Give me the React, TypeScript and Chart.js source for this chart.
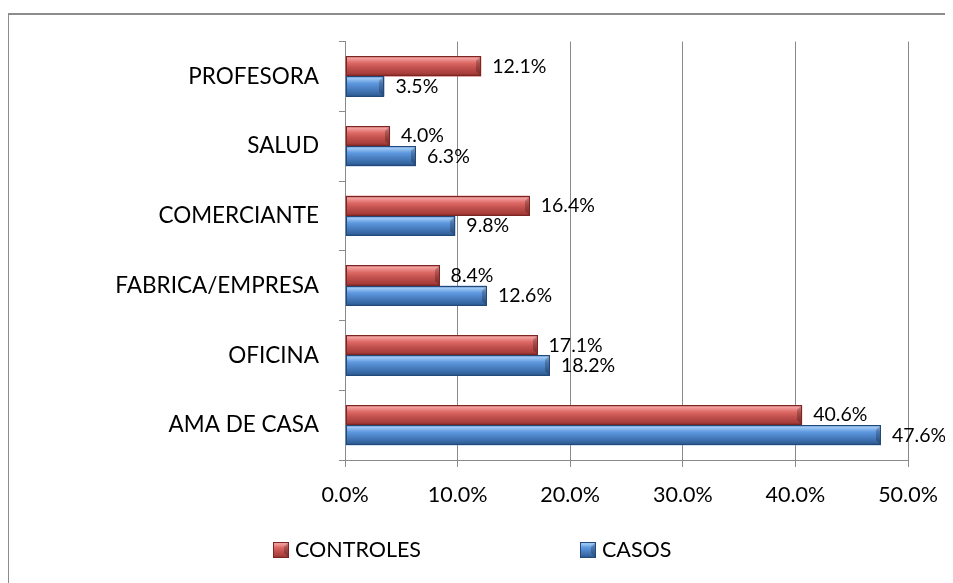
import React, { useEffect, useRef } from "react";
import { Chart, registerables } from "chart.js";

Chart.register(...registerables);

const categories = ["PROFESORA", "SALUD", "COMERCIANTE", "FABRICA/EMPRESA", "OFICINA", "AMA DE CASA"];
const controles = [12.1, 4.0, 16.4, 8.4, 17.1, 40.6];
const casos = [3.5, 6.3, 9.8, 12.6, 18.2, 47.6];
const seriesNames = ["CONTROLES", "CASOS"];
const xTicks = [0, 10, 20, 30, 40, 50];

const FONT = "Lato, 'Open Sans', sans-serif";
const W = 945;
const H = 575;

const palettes = [
  { base: "#c0504d", stops: ["#8e2f2d", "#f3a3a1", "#dd6864", "#c0504d", "#a73d3a", "#7c2523"], border: "#7c2523" },
  { base: "#4f81bd", stops: ["#2f5f99", "#a3cbf6", "#5d98df", "#4a7fc1", "#33649f", "#23487a"], border: "#23487a" },
];

function fillBevel(ctx: CanvasRenderingContext2D, x0: number, x1: number, y0: number, y1: number, p: any) {
  const h = y1 - y0;
  const g = ctx.createLinearGradient(0, y0, 0, y1);
  const pos = [0, 0.1, 0.35, 0.6, 0.88, 1];
  p.stops.forEach((c: string, i: number) => g.addColorStop(pos[i], c));
  ctx.fillStyle = g;
  ctx.fillRect(x0, y0, x1 - x0, h);
  const bw = Math.min(5, (x1 - x0) / 3);
  ctx.beginPath();
  ctx.moveTo(x1, y0);
  ctx.lineTo(x1 - bw, y0 + bw);
  ctx.lineTo(x1 - bw, y1 - bw);
  ctx.lineTo(x1, y1);
  ctx.closePath();
  ctx.fillStyle = "rgba(0,0,0,0.22)";
  ctx.fill();
  ctx.strokeStyle = p.border;
  ctx.lineWidth = 1;
  ctx.strokeRect(x0 + 0.5, y0 + 0.5, x1 - x0 - 1, h - 1);
}

const decorPlugin = {
  id: "decor",
  beforeDraw(chart: any) {
    const ctx = chart.ctx;
    ctx.save();
    ctx.fillStyle = "#ffffff";
    ctx.fillRect(0, 0, W, H);
    ctx.strokeStyle = "#8c8c8c";
    ctx.lineWidth = 2;
    ctx.beginPath();
    ctx.moveTo(0, H + 5);
    ctx.lineTo(0, 6);
    ctx.lineTo(W + 5, 6);
    ctx.stroke();
    ctx.restore();
  },
  afterDatasetsDraw(chart: any) {
    const ctx = chart.ctx;
    ctx.save();
    chart.data.datasets.forEach((ds: any, di: number) => {
      const meta = chart.getDatasetMeta(di);
      meta.data.forEach((el: any, i: number) => {
        const { x, y, base, height } = el.getProps(["x", "y", "base", "height"], true);
        const y0 = Math.round(y - height / 2);
        const y1 = Math.round(y + height / 2);
        fillBevel(ctx, Math.round(base), Math.round(x), y0, y1, palettes[di]);
        ctx.fillStyle = "#000";
        ctx.font = `19.5px ${FONT}`;
        ctx.textAlign = "left";
        ctx.textBaseline = "middle";
        ctx.fillText(ds.data[i].toFixed(1) + "%", x + 11, y);
      });
    });
    const items = [
      { x: 265, label: seriesNames[0], p: palettes[0] },
      { x: 572, label: seriesNames[1], p: palettes[1] },
    ];
    items.forEach((it) => {
      const y0 = 534;
      fillBevel(ctx, it.x, it.x + 16, y0, y0 + 16, it.p);
      ctx.fillStyle = "#000";
      ctx.font = `21.5px ${FONT}`;
      ctx.textAlign = "left";
      ctx.textBaseline = "middle";
      ctx.fillText(it.label, it.x + 22, y0 + 8);
    });
    ctx.restore();
  },
};

export default function App() {
  const ref = useRef<HTMLCanvasElement | null>(null);
  useEffect(() => {
    if (!ref.current) return;
    const chart = new Chart(ref.current, {
      type: "bar",
      data: {
        labels: categories,
        datasets: [
          { label: seriesNames[0], data: controles, backgroundColor: palettes[0].base, barPercentage: 1, categoryPercentage: 0.58 },
          { label: seriesNames[1], data: casos, backgroundColor: palettes[1].base, barPercentage: 1, categoryPercentage: 0.58 },
        ],
      },
      options: {
        indexAxis: "y",
        responsive: false,
        animation: false,
        layout: { padding: { left: 0, top: 32, right: 45, bottom: 0 } },
        plugins: { legend: { display: false }, tooltip: { enabled: false } },
        scales: {
          x: {
            min: 0,
            max: 50,
            afterBuildTicks: (s: any) => {
              s.ticks = xTicks.map((v) => ({ value: v }));
            },
            afterFit: (s: any) => {
              s.height = 123;
            },
            ticks: {
              color: "#000",
              font: { family: FONT, size: 21.5 },
              padding: 15,
              callback: (v: any) => Number(v).toFixed(1) + "%",
            },
            grid: { color: "#8a8a8a", lineWidth: 1, tickLength: 7, drawTicks: true },
            border: { color: "#8a8a8a", width: 1 },
          },
          y: {
            afterFit: (s: any) => {
              s.width = 337;
            },
            ticks: { color: "#000", font: { family: FONT, size: 22.5 }, padding: 20 },
            grid: { drawOnChartArea: false, drawTicks: true, tickLength: 6, color: "#8a8a8a", offset: true },
            border: { color: "#8a8a8a", width: 1 },
          },
        },
      },
      plugins: [decorPlugin],
    } as any);
    return () => chart.destroy();
  }, []);
  return <canvas ref={ref} width={W} height={H} style={{ display: "block" }} />;
}
